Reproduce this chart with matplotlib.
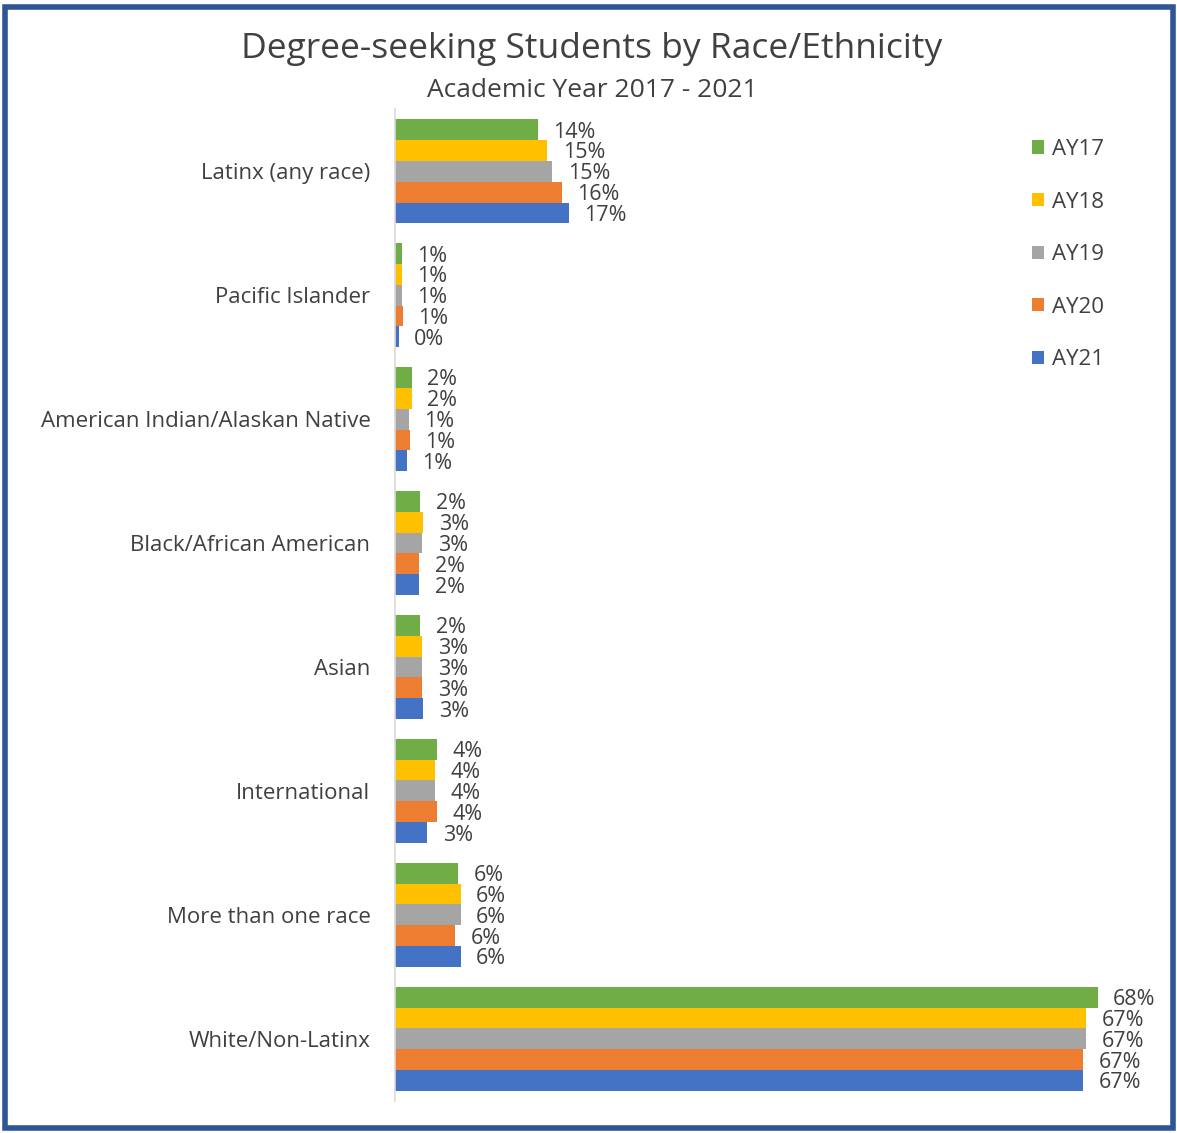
import numpy as np
import matplotlib.pyplot as plt
from matplotlib.patches import Rectangle

categories = ["Latinx (any race)", "Pacific Islander", "American Indian/Alaskan Native",
              "Black/African American", "Asian", "International", "More than one race",
              "White/Non-Latinx"]
years = ["AY17", "AY18", "AY19", "AY20", "AY21"]
colors = ["#70AD47", "#FFC000", "#A5A5A5", "#ED7D31", "#4472C4"]

# percent of degree-seeking students, one list per academic year
ay17 = [13.8, 0.6, 1.6, 2.4, 2.4, 4.0, 6.1, 68.0]
ay18 = [14.7, 0.6, 1.6, 2.7, 2.6, 3.8, 6.3, 66.9]
ay19 = [15.2, 0.6, 1.3, 2.6, 2.6, 3.8, 6.3, 66.9]
ay20 = [16.1, 0.7, 1.4, 2.3, 2.6, 4.0, 5.8, 66.6]
ay21 = [16.8, 0.3, 1.1, 2.3, 2.7, 3.1, 6.3, 66.6]
series = [ay17, ay18, ay19, ay20, ay21]

txt = "#404040"
plt.rcParams['font.family'] = ['Open Sans', 'DejaVu Sans']

fig = plt.figure(figsize=(11.77, 11.33), dpi=100)
ax = fig.add_axes([0.336, 0.0285, 0.60, 0.875])

n = len(categories)
y = np.arange(n)
h = 0.168
for i, (vals, c, lab) in enumerate(zip(series, colors, years)):
    pos = y + (i - 2) * h
    bars = ax.barh(pos, vals, height=h, color=c, label=lab)
    for p, v in zip(pos, vals):
        ax.text(v + 1.5, p + 0.02, f"{round(v)}%", va="center", ha="left",
                fontsize=15.5, color=txt, clip_on=False)

ax.set_ylim(n - 0.5, -0.5)
ax.set_xlim(0, 68.4)
ax.set_yticks(y)
ax.set_yticklabels(categories, fontsize=16, color=txt)
ax.tick_params(axis="y", length=0, pad=18)
ax.set_xticks([])
for s in ["top", "right", "bottom"]:
    ax.spines[s].set_visible(False)
ax.spines["left"].set_color("#D9D9D9")
ax.spines["left"].set_linewidth(1.2)

leg = fig.legend(loc="upper left", bbox_to_anchor=(0.86, 0.895), frameon=False,
                 fontsize=16, handlelength=0.55, handleheight=0.55,
                 handletextpad=0.35, labelspacing=1.42)
for t in leg.get_texts():
    t.set_color(txt)

fig.text(0.503, 0.957, "Degree-seeking Students by Race/Ethnicity", ha="center",
         va="center", fontsize=25.5, color=txt)
fig.text(0.503, 0.920, "Academic Year 2017 - 2021", ha="center", va="center",
         fontsize=19, color=txt)

fig.patches.append(Rectangle((0.004, 0.004), 0.993, 0.99, transform=fig.transFigure,
                             fill=False, edgecolor="#2F5597", linewidth=4))

fig.savefig("out.png", dpi=100)
